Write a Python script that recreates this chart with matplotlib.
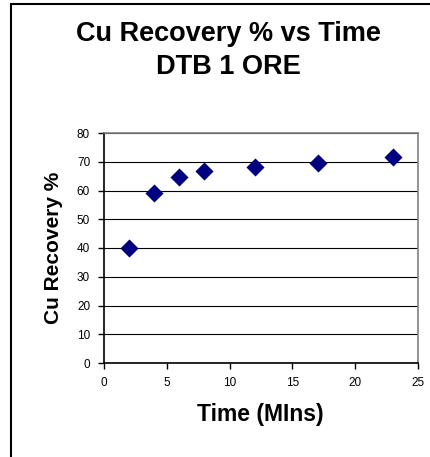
import matplotlib
matplotlib.use("Agg")
import matplotlib.pyplot as plt
from matplotlib.patches import Rectangle

time_mins = [2, 4, 6, 8, 12, 17, 23]
cu_recovery = [39.9, 59.1, 64.8, 66.9, 68.2, 69.5, 71.5]
x_ticks = [0, 5, 10, 15, 20, 25]
y_ticks = [0, 10, 20, 30, 40, 50, 60, 70, 80]

plt.rcParams['font.family'] = ['Liberation Sans', 'DejaVu Sans']

W, H = 431, 457
fig = plt.figure(figsize=(W / 100, H / 100), dpi=100)
fig.patch.set_facecolor('white')

# outer chart border
fig.add_artist(Rectangle((11 / W, -0.1), 1.1, 1 - 4 / H + 0.1, transform=fig.transFigure,
                         fill=False, edgecolor='black', linewidth=1.5))

ax = fig.add_axes([104 / W, 1 - 363 / H, (418 - 104) / W, (363 - 133) / H])
ax.scatter(time_mins, cu_recovery, marker='D', s=85, color='#000080', zorder=3, linewidths=0)
ax.set_xlim(0, 25)
ax.set_ylim(0, 80)
ax.set_xticks(x_ticks)
ax.set_yticks(y_ticks)
ax.tick_params(axis='both', labelsize=8.5, direction='out', length=4, width=1, color='black', pad=6)
ax.grid(axis='y', color='black', linewidth=0.8)
ax.set_axisbelow(True)
for side in ['top', 'right']:
    ax.spines[side].set_color('#808080')
    ax.spines[side].set_linewidth(1.2)
for side in ['left', 'bottom']:
    ax.spines[side].set_color('black')
    ax.spines[side].set_linewidth(1.2)

fig.text(228 / W, 1 - 34 / H, 'Cu Recovery % vs Time', ha='center', va='center',
         fontsize=19.5, fontweight='bold')
fig.text(228 / W, 1 - 67 / H, 'DTB 1 ORE', ha='center', va='center',
         fontsize=19.5, fontweight='bold')
fig.text(260 / W, 1 - 415 / H, 'Time (MIns)', ha='center', va='center',
         fontsize=16.5, fontweight='bold')
fig.text(54 / W, 1 - 248 / H, 'Cu Recovery %', ha='center', va='center',
         fontsize=15, fontweight='bold', rotation=90)

fig.savefig('out.png', dpi=100)
